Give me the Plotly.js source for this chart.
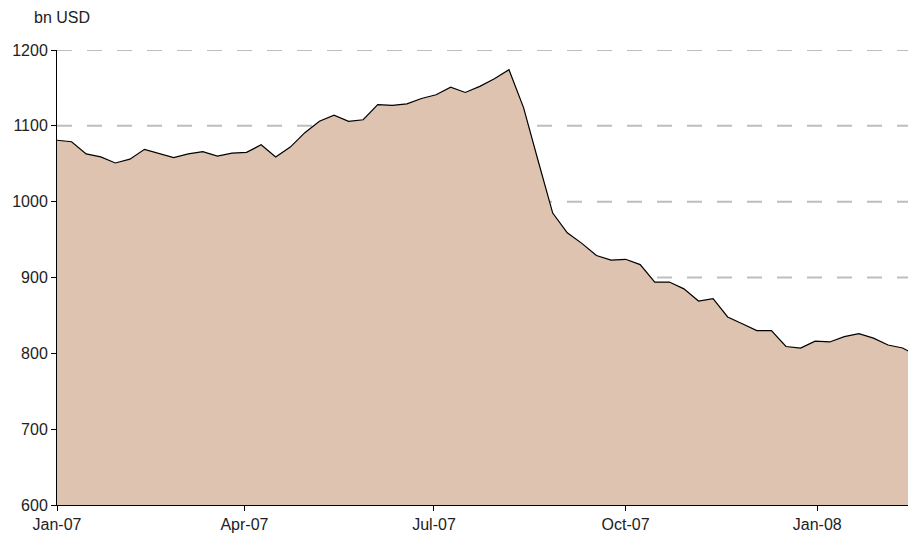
<!DOCTYPE html>
<html>
<head>
<meta charset="utf-8">
<script src="https://cdn.plot.ly/plotly-3.0.1.min.js"></script>
<style>html,body{margin:0;padding:0;background:#fff;}#chart{width:908px;height:537px;}</style>
</head>
<body>
<div id="chart"></div>
<script>
// Weekly observations, starting 1 Jan 2007
const startDate = "2007-01-01";
const values = [
  1081, 1079, 1063, 1059, 1051, 1056, 1069, 1064, 1058, 1063,
  1066, 1060, 1064, 1065, 1075, 1059, 1072, 1091, 1106, 1114,
  1106, 1108, 1128, 1127, 1129, 1136, 1141, 1151, 1144, 1152,
  1162, 1174, 1124, 1054, 985, 959, 945, 929, 923, 924,
  917, 894, 894, 885, 869, 872, 848, 839, 830, 830,
  809, 807, 816, 815, 822, 826, 820, 811, 807, 797
];
const yTicks = [600, 700, 800, 900, 1000, 1100, 1200];
const gridValues = [700, 800, 900, 1000, 1100, 1200];
const unitLabel = "bn USD";

const dates = values.map((v, i) => {
  const d = new Date(startDate + "T00:00:00Z");
  d.setUTCDate(d.getUTCDate() + 7 * i);
  return d.toISOString().slice(0, 10);
});

const font = {family: "Liberation Sans, Arial, Helvetica, sans-serif", size: 16, color: "#222"};

const trace = {
  x: dates,
  y: values,
  type: "scatter",
  mode: "lines",
  fill: "tozeroy",
  fillcolor: "#dec4b0",
  line: {color: "#000", width: 1.2},
  hoverinfo: "skip"
};

const gridShapes = gridValues.map(v => ({
  type: "line",
  xref: "paper", yref: "y",
  x0: 0, x1: 1, y0: v, y1: v,
  layer: "below",
  line: {color: "#bdbdbd", width: 2, dash: "15px,15px"}
}));

const layout = {
  width: 908,
  height: 537,
  margin: {l: 57, r: 0, t: 50, b: 32},
  paper_bgcolor: "#fff",
  plot_bgcolor: "#fff",
  showlegend: false,
  font: font,
  xaxis: {
    type: "date",
    range: ["2007-01-01", "2008-02-13 14:00"],
    tick0: "2007-01-01",
    dtick: "M3",
    tickformat: "%b-%y",
    ticks: "outside",
    ticklen: 5,
    tickcolor: "#000",
    showline: true,
    linecolor: "#000",
    linewidth: 1,
    showgrid: false,
    zeroline: false,
    tickfont: font
  },
  yaxis: {
    range: [600, 1200],
    tickvals: yTicks,
    ticks: "outside",
    ticklen: 5,
    tickcolor: "#000",
    showline: true,
    linecolor: "#000",
    linewidth: 1,
    showgrid: false,
    zeroline: false,
    tickfont: font
  },
  shapes: gridShapes,
  annotations: [{
    text: unitLabel,
    xref: "paper", yref: "paper",
    x: -0.0294, y: 1.0725,
    xanchor: "left", yanchor: "middle",
    showarrow: false,
    font: font
  }]
};

Plotly.newPlot("chart", [trace], layout, {displayModeBar: false, staticPlot: true});
</script>
</body>
</html>
